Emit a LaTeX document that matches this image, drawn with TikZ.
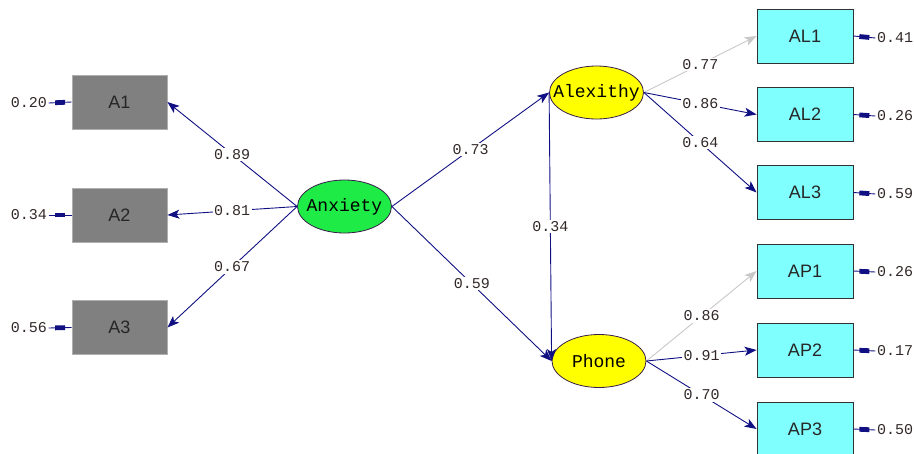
\documentclass[tikz,border=0pt]{standalone}
\usepackage{fontspec}
\setmainfont{Liberation Sans}
\setmonofont{Liberation Mono}
\usetikzlibrary{arrows.meta,decorations.markings,shapes.geometric}

\definecolor{pathblue}{RGB}{16,16,130}
\definecolor{fixgray}{RGB}{200,200,200}
\definecolor{numcol}{RGB}{50,40,40}
\definecolor{obsgray}{RGB}{128,128,128}
\definecolor{obsedge}{RGB}{175,175,175}
\definecolor{obscyan}{RGB}{128,255,255}
\definecolor{cyanedge}{RGB}{50,50,50}
\definecolor{exogreen}{RGB}{30,235,70}
\definecolor{endoyellow}{RGB}{255,255,0}
\definecolor{latentedge}{RGB}{55,30,75}

% zero-width text so the ellipse keeps its given size
\newcommand{\lvname}[1]{\makebox[0pt]{#1}}

\tikzset{
  xbox/.style={draw=obsedge, fill=obsgray, line width=0.8pt, minimum width=95pt,
    minimum height=54pt, inner sep=0pt, font=\fontsize{18}{18}\selectfont, text=black!85},
  ybox/.style={draw=cyanedge, fill=obscyan, line width=0.8pt, minimum width=96pt,
    minimum height=54pt, inner sep=0pt, font=\fontsize{18}{18}\selectfont, text=black!85},
  latent/.style={ellipse, draw=latentedge, line width=0.8pt, minimum width=94pt,
    minimum height=53pt, inner sep=0pt, font=\fontsize{18}{18}\selectfont\ttfamily},
  coef/.style={fill=white, inner sep=1.5pt, text=numcol, font=\fontsize{15}{15}\selectfont\ttfamily},
  errlbl/.style={inner sep=1.5pt, text=numcol, font=\fontsize{15}{15}\selectfont\ttfamily},
  path/.style={draw=pathblue, line width=0.9pt,
    -{Stealth[length=12pt,width=9pt,inset=3pt]}},
  fixedpath/.style={path, draw=fixgray, -{Stealth[length=12pt,width=9pt,inset=3pt,fill=fixgray]}},
  resid/.style={draw=pathblue, line width=0.9pt, postaction={decorate},
    decoration={markings, mark=at position 0.5 with {\fill[pathblue] (-5,-2.4) rectangle (5,2.4);}}},
}

\begin{document}
\begin{tikzpicture}[x=1pt,y=-1pt]
\useasboundingbox (0,0) rectangle (914,453);

% exogenous indicators
\node[xbox] (A1) at (119.5,102) {A1};
\node[xbox] (A2) at (119.5,215) {A2};
\node[xbox] (A3) at (119.5,327.5) {A3};

% latent variables
\node[latent, fill=exogreen] (anx) at (344.5,206.5) {\lvname{Anxiety}};
\node[latent, fill=endoyellow] (alx) at (596.5,92.5) {\lvname{Alexithy}};
\node[latent, fill=endoyellow] (pho) at (599,361) {\lvname{Phone}};

% endogenous indicators
\node[ybox] (AL1) at (805,36) {AL1};
\node[ybox] (AL2) at (805,114.5) {AL2};
\node[ybox] (AL3) at (805,192.5) {AL3};
\node[ybox] (AP1) at (805,271) {AP1};
\node[ybox] (AP2) at (805,350) {AP2};
\node[ybox] (AP3) at (805,429) {AP3};

% error variances
\node[errlbl] (eA1) at (29,103) {0.20};
\node[errlbl] (eA2) at (29,215) {0.34};
\node[errlbl] (eA3) at (29,328) {0.56};
\node[errlbl] (eAL1) at (895,38) {0.41};
\node[errlbl] (eAL2) at (895,116) {0.26};
\node[errlbl] (eAL3) at (895,194) {0.59};
\node[errlbl] (eAP1) at (895,272) {0.26};
\node[errlbl] (eAP2) at (895,351) {0.17};
\node[errlbl] (eAP3) at (895,430) {0.50};

\foreach \e/\b in {eA1/A1,eA2/A2,eA3/A3}
  \draw[resid] (\e.east) -- (\b.west);
\foreach \e/\b in {eAL1/AL1,eAL2/AL2,eAL3/AL3,eAP1/AP1,eAP2/AP2,eAP3/AP3}
  \draw[resid] (\b.east) -- (\e.west);

% loadings of Anxiety
\draw[path] (anx.west) -- node[coef]{0.89} (A1.east);
\draw[path] (anx.west) -- node[coef]{0.81} (A2.east);
\draw[path] (anx.west) -- node[coef]{0.67} (A3.east);

% structural paths
\draw[path] (anx.east) -- node[coef]{0.73} (alx.west);
\draw[path] (anx.east) -- node[coef]{0.59} (pho.west);
\draw[path] (alx.west) -- node[coef]{0.34} (pho.west);

% loadings of Alexithy and Phone
\draw[fixedpath] (alx.east) -- node[coef]{0.77} (AL1.west);
\draw[path] (alx.east) -- node[coef]{0.86} (AL2.west);
\draw[path] (alx.east) -- node[coef]{0.64} (AL3.west);
\draw[fixedpath] (pho.east) -- node[coef]{0.86} (AP1.west);
\draw[path] (pho.east) -- node[coef]{0.91} (AP2.west);
\draw[path] (pho.east) -- node[coef]{0.70} (AP3.west);
\end{tikzpicture}
\end{document}
